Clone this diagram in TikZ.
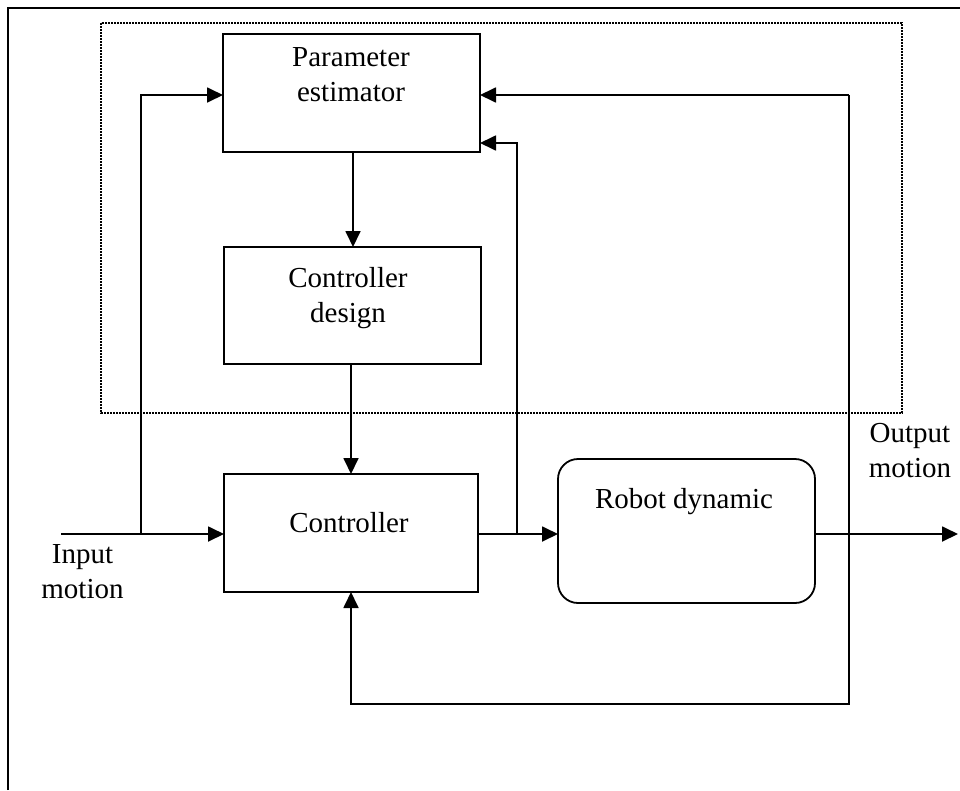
\documentclass[tikz,border=0pt]{standalone}
\usepackage{fontspec}
\setmainfont{Liberation Serif}
\usetikzlibrary{arrows.meta}
\begin{document}
\begin{tikzpicture}[x=1pt,y=-1pt,
  arr/.style={line width=1.8pt,-{Triangle[length=16pt,width=15pt]}},
  blockbox/.style={draw,line width=1.8pt,inner sep=0pt,outer sep=0pt},
  lbl/.style={inner sep=0pt,align=center,font=\fontsize{29}{35}\selectfont},
  groupbox/.style={line width=1.6pt,dash pattern=on 1.6pt off 1.4pt}]
\useasboundingbox (0,0) rectangle (960,790);
% outer frame (left and top edges)
\draw[line width=2.4pt] (8,790) -- (8,8) -- (960,8);
% dotted group
\draw[groupbox] (101,23) rectangle (902,413);
% blocks
\node[blockbox,minimum width=257pt,minimum height=118pt] (pe) at (351.5,93) {};
\node[blockbox,minimum width=257pt,minimum height=117pt] (cd) at (352.5,305.5) {};
\node[blockbox,minimum width=254pt,minimum height=118pt] (ctrl) at (351,533) {};
\node[blockbox,rounded corners=20pt,minimum width=257pt,minimum height=144pt] (rob) at (686.5,531) {};
% texts
\node[lbl] (pet) at (351,75) {Parameter\\estimator};
\node[lbl] (cdt) at (348,298) {Controller\\design};
\node[lbl] (ctrlt) at (349,523) {Controller};
\node[lbl] (robt) at (684,502) {Robot dynamic};
\node[lbl] (inl) at (82.5,572) {Input\\motion};
\node[lbl] (outl) at (910,451) {Output\\motion};
% coordinates
\coordinate (in) at (61,534);
\coordinate (j1) at (141,534);
\coordinate (j2) at (517,534);
\coordinate (out) at (958,534);
\coordinate (fbtop) at (849,95);
\coordinate (fbbot) at (849,704);
\coordinate (pein1) at (pe.east |- fbtop);
% connectors
\draw[arr] (in) -- (ctrl.west |- in);
\draw[arr] (j1) |- (pe.west |- fbtop);
\draw[arr] (pe.south -| 353,0) -- (cd.north -| 353,0);
\draw[arr] (cd.south -| ctrl.north) -- (ctrl.north);
\draw[arr] (ctrl.east |- in) -- (rob.west |- in);
\draw[arr] (j2) |- (pe.east |- 0,143);
\draw[arr] (rob.east |- in) -- (out);
\draw[arr] (fbtop) -- (pein1);
\draw[arr] (fbtop) -- (fbbot) -| (ctrl.south);
\end{tikzpicture}
\end{document}
